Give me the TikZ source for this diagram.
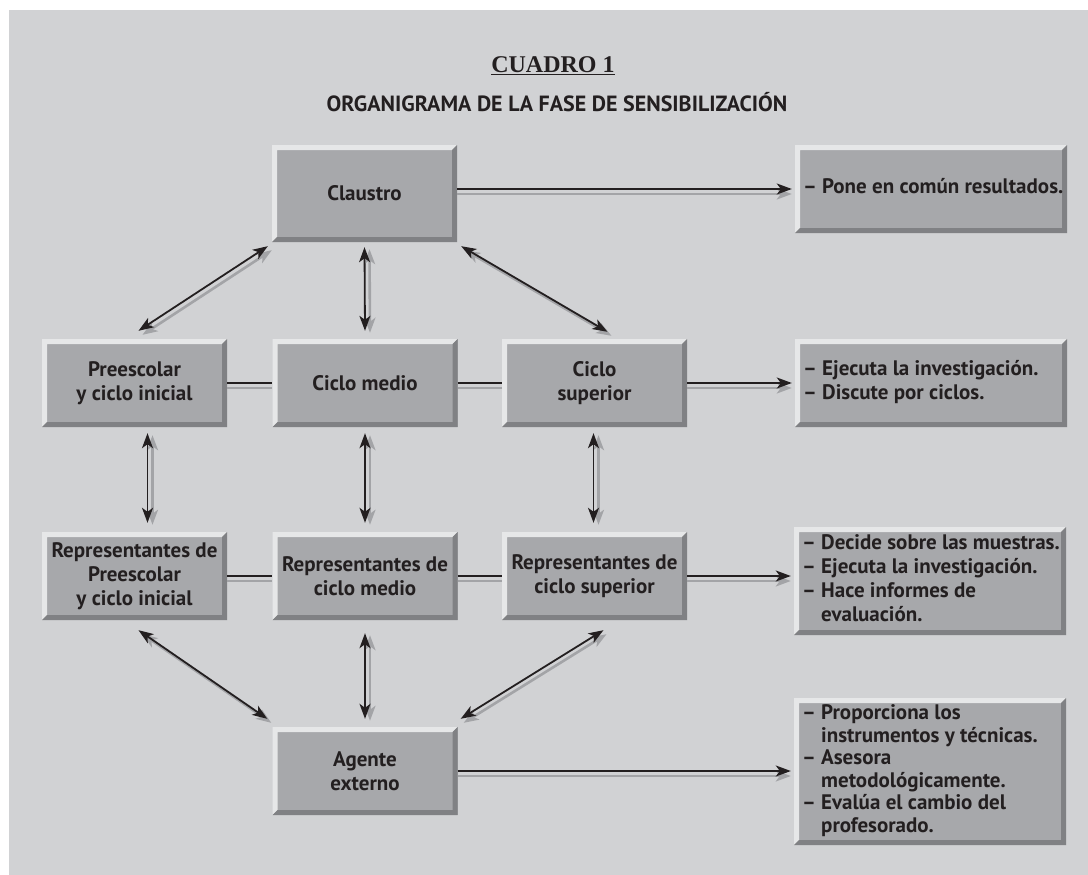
\documentclass[tikz,border=0pt]{standalone}
\usepackage{fontspec}
\setmainfont{PT Sans}
\newfontfamily\serifhead{Liberation Serif}
\usetikzlibrary{arrows.meta,calc}
\definecolor{panelGray}{HTML}{D1D2D4}
\definecolor{boxGray}{HTML}{A7A8AB}
\definecolor{boxLight}{HTML}{E6E7E8}
\definecolor{boxDark}{HTML}{808184}
\definecolor{shadeGray}{HTML}{A3A4A7}
\definecolor{inkBlack}{HTML}{231F20}

\begin{document}
\begin{tikzpicture}[x=1pt, y=-1pt,
  font=\fontsize{21}{24}\selectfont\bfseries,
  bevel/.style={rectangle, inner sep=0pt, fill=boxGray, text=inkBlack,
    path picture={
      \path (path picture bounding box.north west) coordinate (bnw)
            (path picture bounding box.north east) coordinate (bne)
            (path picture bounding box.south west) coordinate (bsw)
            (path picture bounding box.south east) coordinate (bse);
      \fill[boxLight] (bsw) -- (bnw) -- (bne) -- ([shift={(-5pt,-5pt)}]bne)
        -- ([shift={(5pt,-5pt)}]bnw) -- ([shift={(5pt,5pt)}]bsw) -- cycle;
      \fill[boxDark] (bsw) -- (bse) -- (bne) -- ([shift={(-5pt,-5pt)}]bne)
        -- ([shift={(-5pt,5pt)}]bse) -- ([shift={(5pt,5pt)}]bsw) -- cycle;
    }},
  cbox/.style={bevel, minimum width=185pt, minimum height=88pt, align=center},
  rbox/.style={bevel, inner xsep=8pt, text width=256pt, align=flush left,
    font=\fontsize{21}{24}\selectfont\bfseries},
  link/.style={draw=inkBlack, line width=1.8pt,
    preaction={draw=shadeGray, line width=2.6pt, transform canvas={shift={#1}}}},
  link/.default={(0pt,-5pt)},
  one/.style={-{Stealth[length=15pt,width=11pt,inset=4pt]}},
  two/.style={{Stealth[length=15pt,width=11pt,inset=4pt]}-{Stealth[length=15pt,width=11pt,inset=4pt]}}]

  \useasboundingbox (0,0) rectangle (1088,875);
  \fill[white] (0,0) rectangle (1088,875);
  \fill[panelGray] (9,10) rectangle (1088,875);

  % titulo
  \node[font=\serifhead\fontsize{24}{28}\selectfont\bfseries, text=inkBlack, inner sep=0pt, anchor=base]
    (cuadro) at (553,73) {\underline{CUADRO 1}};
  \node[font=\fontsize{22}{24}\selectfont\bfseries, text=inkBlack, inner sep=0pt, anchor=base]
    (organigrama) at (557,111) {ORGANIGRAMA DE LA FASE DE SENSIBILIZACIÓN};

  % cajas
  \node[cbox, minimum height=97pt] (claustro) at (364.5,193.5) {Claustro};
  \node[cbox] (pre)  at (134.5,383) {Preescolar\\y ciclo inicial};
  \node[cbox] (med)  at (365,383)   {Ciclo medio};
  \node[cbox] (sup)  at (594.5,383) {Ciclo\\superior};
  \node[cbox] (rpre) at (134.5,576) {Representantes de\\Preescolar\\y ciclo inicial};
  \node[cbox] (rmed) at (365,576)   {Representantes de\\ciclo medio};
  \node[cbox] (rsup) at (594.5,576) {Representantes de\\ciclo superior};
  \node[cbox] (agente) at (365,771) {Agente\\externo};

  \node[rbox, minimum height=88pt]  (pone) at (931,189)
    {\begin{tabular}{@{}l@{}}– Pone en común resultados.\end{tabular}};
  \node[rbox, minimum height=88pt]  (eje)  at (931,383)
    {\begin{tabular}{@{}l@{}}– Ejecuta la investigación.\\– Discute por ciclos.\end{tabular}};
  \node[rbox, minimum height=108pt] (dec)  at (930,581)
    {\begin{tabular}{@{}l@{}}– Decide sobre las muestras.\\– Ejecuta la investigación.\\– Hace informes de\\\hphantom{– }evaluación.\end{tabular}};
  \node[rbox, minimum height=147pt, font=\fontsize{21}{22.5}\selectfont\bfseries] (prop) at (930,771.5)
    {\begin{tabular}{@{}l@{}}– Proporciona los\\\hphantom{– }instrumentos y técnicas.\\– Asesora\\\hphantom{– }metodológicamente.\\– Evalúa el cambio del\\\hphantom{– }profesorado.\end{tabular}};

  % conexiones
  \draw[link, one, shorten >=3pt] (claustro.east |- pone.west) -- (pone.west);
  \draw[link={(4pt,-4pt)}, two] ([xshift=-4pt,yshift=-4pt]claustro.south west) -- ([xshift=4pt,yshift=8pt]pre.north);
  \draw[link={(5pt,-2pt)}, two] ([yshift=-5pt]claustro.south) -- ([yshift=8pt]med.north);
  \draw[link={(4pt,-4pt)}, two] ([xshift=4pt,yshift=-4pt]claustro.south east) -- ([xshift=13pt,yshift=7pt]sup.north);

  \draw[link] (pre.east) -- (med.west);
  \draw[link] (med.east) -- (sup.west);
  \draw[link, one, shorten >=3pt] (sup.east) -- (eje.west);

  \draw[link={(5pt,-2pt)}, two] ([xshift=13pt,yshift=-6pt]pre.south) -- ([xshift=13pt,yshift=9pt]rpre.north);
  \draw[link={(5pt,-2pt)}, two] ([yshift=-6pt]med.south) -- ([yshift=9pt]rmed.north);
  \draw[link={(5pt,-2pt)}, two] ([xshift=-1pt,yshift=-6pt]sup.south) -- ([xshift=-1pt,yshift=9pt]rsup.north);

  \draw[link] (rpre.east) -- (rmed.west);
  \draw[link] (rmed.east) -- (rsup.west);
  \draw[link, one, shorten >=3pt] (rsup.east) -- (rsup.east -| dec.west);

  \draw[link={(4pt,-4pt)}, two] ([xshift=4pt,yshift=-10pt]rpre.south) -- ([xshift=-5pt,yshift=8pt]agente.north west);
  \draw[link={(5pt,-2pt)}, two] ([yshift=-13pt]rmed.south) -- ([yshift=8pt]agente.north);
  \draw[link={(3pt,-4pt)}, two] ([xshift=9pt,yshift=-10pt]rsup.south) -- ([xshift=3pt,yshift=8pt]agente.north east);
  \draw[link, one, shorten >=3pt] (agente.east) -- (agente.east -| prop.west);
\end{tikzpicture}
\end{document}
